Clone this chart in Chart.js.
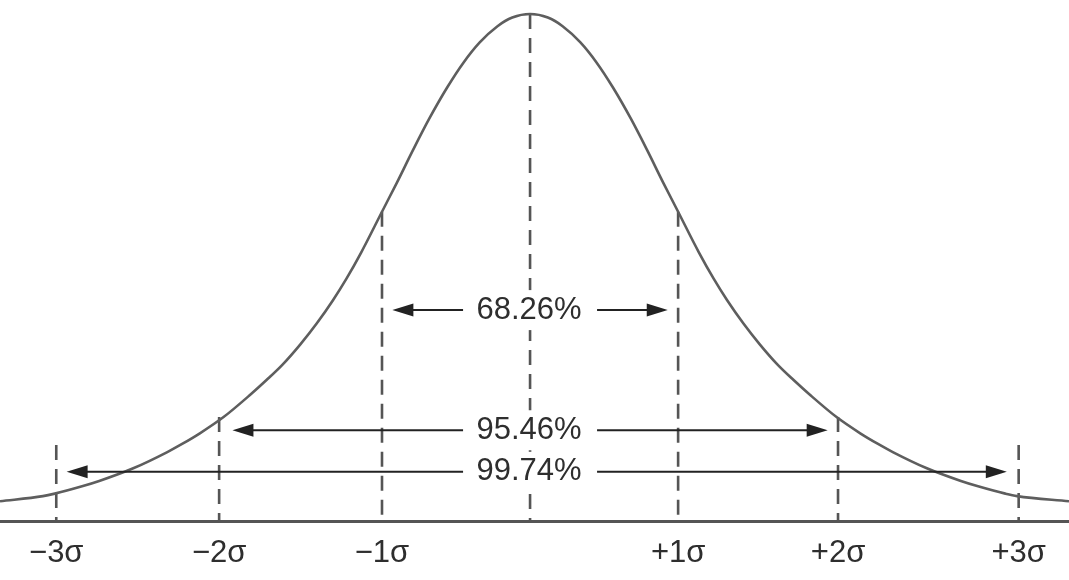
<!DOCTYPE html>
<html>
<head>
<meta charset="utf-8">
<script src="https://cdn.jsdelivr.net/npm/chart.js@4/dist/chart.umd.min.js"></script>
<style>
  html,body{margin:0;padding:0;background:#fff;}
  #wrap{width:1069px;height:580px;position:relative;}
</style>
</head>
<body>
<div id="wrap"><canvas id="c"></canvas></div>
<script>
// curve: x in sigma units, y as % of peak height
const CURVE_X = [-3.58,-3.29,-3.21,-3.02,-2.91,-2.68,-2.45,-2.35,-2.23,-2.07,-1.89,-1.78,-1.67,-1.55,-1.44,-1.33,-1.24,-1.14,-1.0,-0.9,-0.79,-0.68,-0.56,-0.45,-0.34,-0.22,-0.12,
                 0,0.12,0.22,0.34,0.45,0.56,0.68,0.79,0.9,1.0,1.14,1.24,1.33,1.44,1.55,1.67,1.78,1.89,2.07,2.23,2.35,2.45,2.68,2.91,3.02,3.21,3.29,3.64];
const CURVE_Y = [3.9,4.9,5.4,6.9,7.9,10.4,13.6,15.2,17.3,20.5,24.9,27.8,30.9,34.9,39.0,43.6,47.8,53.0,61.0,66.7,73.2,79.4,85.5,90.4,94.4,97.6,99.3,
                 100,99.3,97.6,94.4,90.4,85.5,79.4,73.2,66.7,61.0,53.0,47.8,43.6,39.0,34.9,30.9,27.8,24.9,20.5,17.3,15.2,13.6,10.4,7.9,6.9,5.4,4.9,3.9];

// dashed markers and axis labels
const SIGMA_X      = [-3.2,-2.1,-1,0,1,2.08,3.3];
const SIGMA_LABELS = ['\u22123\u03c3','\u22122\u03c3','\u22121\u03c3','','+1\u03c3','+2\u03c3','+3\u03c3'];
const MARK_TOP     = [15.0,20.5,61.0,100,61.0,20.5,15.0];

// range arrows
const ARROW_LABELS = ['68.26%','95.46%','99.74%'];
const ARROW_Y      = [41.6,17.9,9.7];
const ARROW_FROM   = [-0.93,-2.01,-3.13];
const ARROW_TO     = [0.93,2.01,3.22];

const FONT = "'Liberation Sans', Arial, Helvetica, sans-serif";

const datasets = [{
  data: CURVE_X.map((x,i)=>({x, y:CURVE_Y[i]})),
  borderColor:'#5e5e5e', borderWidth:2.6, pointRadius:0,
  cubicInterpolationMode:'monotone', capBezierPoints:false, fill:false, clip:4
}];
SIGMA_X.forEach((x,i)=>{
  datasets.push({
    data:[{x, y:MARK_TOP[i]},{x, y:0}],
    borderColor:'#555', borderWidth:2.6, borderDash:[15,9], pointRadius:0, fill:false
  });
});

// arrows + percentage labels on a white patch
const arrowPlugin = {
  id:'arrows',
  afterDatasetsDraw(chart){
    const {ctx, scales:{x:xs, y:ys}} = chart;
    ctx.save();
    ARROW_LABELS.forEach((lab,i)=>{
      const y = ys.getPixelForValue(ARROW_Y[i]);
      const x0 = xs.getPixelForValue(ARROW_FROM[i]);
      const x1 = xs.getPixelForValue(ARROW_TO[i]);
      ctx.strokeStyle = '#222'; ctx.fillStyle = '#222'; ctx.lineWidth = 2;
      ctx.beginPath(); ctx.moveTo(x0+10,y); ctx.lineTo(x1-10,y); ctx.stroke();
      [[x0,1],[x1,-1]].forEach(([tx,d])=>{
        ctx.beginPath();
        ctx.moveTo(tx,y); ctx.lineTo(tx+d*21,y-6.5); ctx.lineTo(tx+d*21,y+6.5);
        ctx.closePath(); ctx.fill();
      });
    });
    ARROW_LABELS.forEach((lab,i)=>{
      const y = ys.getPixelForValue(ARROW_Y[i]);
      const xc = xs.getPixelForValue(0);
      ctx.fillStyle = '#fff';
      ctx.fillRect(xc-67, y-20, 134, 40);
    });
    ctx.font = '31px ' + FONT;
    ctx.textAlign = 'center'; ctx.textBaseline = 'middle';
    ctx.fillStyle = '#2e2e2e';
    ARROW_LABELS.forEach((lab,i)=>{
      ctx.fillText(lab, xs.getPixelForValue(0)-1, ys.getPixelForValue(ARROW_Y[i]));
    });
    ctx.restore();
  }
};

new Chart(document.getElementById('c'), {
  type:'line',
  data:{datasets},
  plugins:[arrowPlugin],
  options:{
    responsive:true, maintainAspectRatio:false, animation:false,
    events:[],
    layout:{padding:{top:14,left:0,right:0,bottom:0}},
    plugins:{legend:{display:false}, tooltip:{enabled:false}},
    scales:{
      x:{
        type:'linear', min:-3.58, max:3.64,
        grid:{display:false, drawTicks:false},
        border:{display:true, color:'#555', width:3},
        afterBuildTicks: s=>{ s.ticks = SIGMA_X.map(v=>({value:v})); },
        afterFit: s=>{ s.height = 59; },
        ticks:{
          autoSkip:false, maxRotation:0, padding:14, color:'#2e2e2e',
          font:{family:FONT, size:31},
          callback:(v,i)=>SIGMA_LABELS[i]
        }
      },
      y:{type:'linear', min:0, max:100, display:false}
    }
  }
});
</script>
</body>
</html>
